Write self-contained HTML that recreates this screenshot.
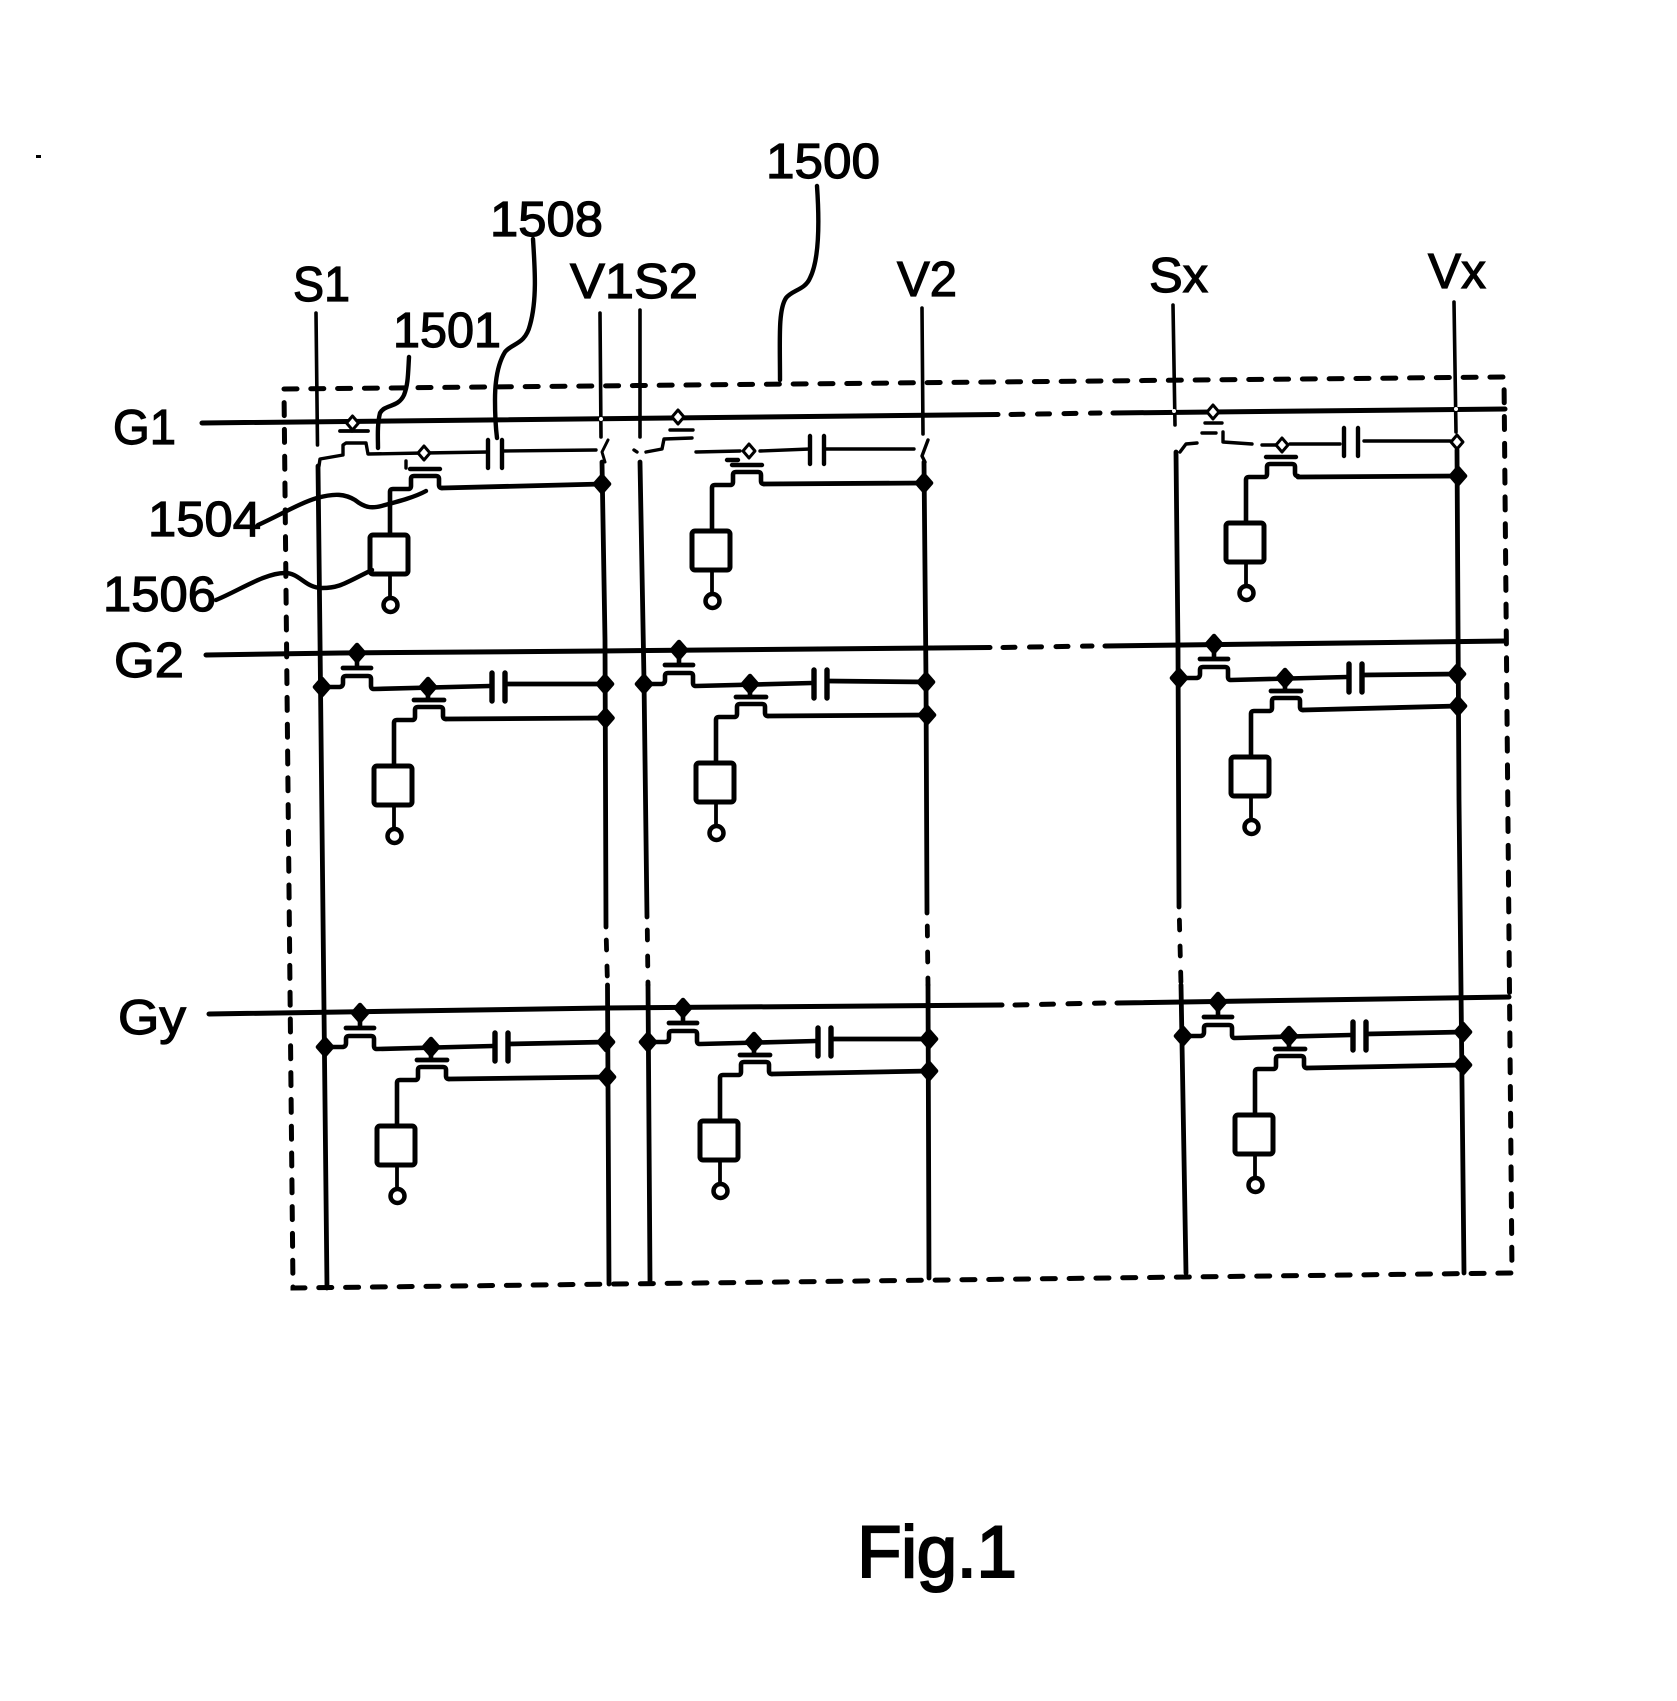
<!DOCTYPE html>
<html><head><meta charset="utf-8"><style>
html,body{margin:0;padding:0;background:#fff}
svg{display:block}
text{font-family:"Liberation Sans",sans-serif;font-size:49px;fill:#000;stroke:#000;stroke-width:1.200px}
</style></head><body>
<svg width="1677" height="1701" viewBox="0 0 1677 1701" xmlns="http://www.w3.org/2000/svg">
<defs>
<path id="d" d="M-7,0 L0,-8 L7,0 L0,8 Z" fill="#000" stroke="#000" stroke-width="4.500" stroke-linejoin="round"/>
<path id="h" d="M-6,0 L0,-7 L6,0 L0,7 Z" fill="#fff" stroke="#000" stroke-width="3" stroke-linejoin="round"/>
<g id="low" fill="none" stroke="#000" stroke-width="4.600" stroke-linejoin="round" stroke-linecap="round">
  <path d="M72,78 V36 Q72,33 75,33 H90 Q93,33 93,30 V23 Q93,20 96,20 H118 Q121,20 121,23 V29 Q121,32 124,32"/>
  <rect x="52" y="79" width="38" height="39" rx="3" stroke-width="5"/>
  <path d="M72,118 V141" stroke-width="3.800"/>
  <circle cx="72.500" cy="149" r="7" stroke-width="4.500"/>
</g>
<g id="c" fill="none" stroke="#000" stroke-width="4.600" stroke-linejoin="round" stroke-linecap="round">
  <path d="M0,0 H17 Q21,0 21,-4 V-8 Q21,-11 24,-11 H46 Q49,-11 49,-8 V-1 Q49,2 52,2 L168,-1"/>
  <path d="M21,-19 H49 M92,13 H122" stroke-width="4.800"/>
  <path d="M35,-28 V-20 M106,6 V12" stroke-width="4.600"/>
  <path d="M170,-14 V14 M183,-14 V14" stroke-width="5.400"/>
  <use href="#d" x="0" y="0"/><use href="#d" x="35" y="-34"/><use href="#d" x="106" y="0"/>
  <use href="#low"/>
</g>
<g id="t" fill="none" stroke="#000" stroke-width="3.400" stroke-linejoin="round" stroke-linecap="round">
  <path d="M92,13 H122" stroke-width="4.400"/>
  <path d="M170,-16 V12 M184,-16 V12" stroke-width="4.400"/>
  <use href="#low"/>
</g>
</defs>
<rect width="1677" height="1701" fill="#fff"/>
<rect x="36" y="155" width="5" height="3" fill="#000"/>

<!-- outer dashed frame -->
<path d="M284,389 L1504,377 L1512,1273 L293,1288 Z" fill="none" stroke="#000" stroke-width="5" stroke-dasharray="13 13.800" stroke-linecap="round"/>

<!-- gate lines -->
<g fill="none" stroke="#000" stroke-width="5" stroke-linecap="round">
  <path d="M202,423 L998,414.500"/>
  <path d="M1113,413 L1505,409"/>
  <path d="M1011,414.500 L1100,413" stroke-dasharray="12 14.500"/>
  <path d="M206,655 L340,653 L600,651 L990,647.500"/>
  <path d="M1105,646 L1505,641"/>
  <path d="M1003,647.500 L1092,646" stroke-dasharray="12 14.500"/>
  <path d="M209,1014 L605,1008 L1002,1005"/>
  <path d="M1117,1003 L1509,997"/>
  <path d="M1015,1005 L1104,1003" stroke-dasharray="12 14.500"/>
</g>

<!-- source and supply lines -->
<g fill="none" stroke="#000" stroke-linecap="round">
  <g stroke-width="3.600">
    <path d="M316,313 L317.500,445"/>
    <path d="M600,313 L601,437"/>
    <path d="M640,310 L640,437"/>
    <path d="M922,308 L923,434"/>
    <path d="M1173,305 L1175,425"/>
    <path d="M1454,302 L1456,432"/>
  </g>
  <g stroke-width="4.800">
    <path d="M318,466 L320,640 L327,1288"/>
    <path d="M602,462 L605,640 L606,927"/>
    <path d="M607.500,985 L609,1284"/>
    <path d="M640,462 L644,680 L647,917"/>
    <path d="M648,985 L650,1281"/>
    <path d="M924,462 L926,680 L927,913"/>
    <path d="M928,985 L929,1278"/>
    <path d="M1176,452 L1178,650 L1179,907"/>
    <path d="M1181,985 L1186,1273"/>
    <path d="M1457,450 L1459,800 L1464,1273"/>
    <path d="M606.300,940 L607.500,985" stroke-dasharray="10 16"/>
    <path d="M647.300,930 L648,985" stroke-dasharray="10 16"/>
    <path d="M927.300,926 L928,985" stroke-dasharray="10 16"/>
    <path d="M1179.400,920 L1181,985" stroke-dasharray="10 16"/>
  </g>
</g>

<!-- row 2 -->
<use href="#c" x="322" y="687"/><use href="#c" x="644" y="684"/><use href="#c" x="1179" y="678"/>
<!-- row 3 -->
<use href="#c" x="325" y="1047"/><use href="#c" x="648" y="1042"/><use href="#c" x="1183" y="1036"/>

<!-- connections to supply lines, rows 2-3 -->
<g fill="none" stroke="#000" stroke-width="4.800" stroke-linecap="round">
  <path d="M505,684 L605,684 M446,719 L605,718"/>
  <path d="M827,681 L926,682 M768,716 L927,715"/>
  <path d="M1362,675 L1457,674 M1303,710 L1458,706"/>
  <path d="M508,1044 L606,1042 M449,1079 L607,1077"/>
  <path d="M831,1039 L929,1039 M772,1074 L929,1071"/>
  <path d="M1366,1034 L1463,1032 M1307,1068 L1463,1065"/>
</g>
<use href="#d" x="605" y="684"/><use href="#d" x="605.500" y="718"/>
<use href="#d" x="926" y="682"/><use href="#d" x="927" y="715"/>
<use href="#d" x="1457" y="674"/><use href="#d" x="1458" y="706"/>
<use href="#d" x="606" y="1042"/><use href="#d" x="607" y="1077"/>
<use href="#d" x="929" y="1039"/><use href="#d" x="929" y="1071"/>
<use href="#d" x="1463" y="1032"/><use href="#d" x="1463" y="1065"/>

<!-- row 1 -->
<use href="#t" x="318" y="456"/><use href="#t" x="640" y="452"/><use href="#t" x="1174" y="444"/>
<g fill="none" stroke="#000" stroke-width="3.400" stroke-linecap="round" stroke-linejoin="round">
  <!-- col 1 -->
  <path d="M319,466 L320,459 L343,455 L343,445 L346,443 L366,443 L368,454 L424,453 L488,452"/>
  <path d="M340,431 H368" stroke-width="3.800"/>
  <path d="M352,428 V431"/>
  <path d="M502,451 L596,450"/>
  <path d="M406,461 V468" />
  <!-- col 2 -->
  <path d="M634,450 L637,452 M646,452 L662,449 L664,439 L692,438"/>
  <path d="M670,430 H693" stroke-width="3.400"/>
  <path d="M696,452 L740,451 M760,451 L810,449 M826,449 L914,449"/>
  <path d="M727,460 H738" stroke-width="4.400"/>
  <!-- col 3 -->
  <path d="M1180,452 L1186,444 L1197,443"/>
  <path d="M1205,423 H1222 M1202,433 H1216"/>
  <path d="M1223,432 V442 L1252,444 M1262,445 L1276,445 M1290,444 L1340,444 M1364,441 L1450,441"/>
  <!-- supply bends -->
  <path d="M608,440 L602,452 L605,462" stroke-width="3"/>
  <path d="M928,440 L922,456 L925,462"/>
</g>
<use href="#h" x="352.500" y="423"/><use href="#h" x="678" y="417"/><use href="#h" x="1213" y="412"/>
<use href="#h" x="424" y="453"/><use href="#h" x="749" y="451"/><use href="#h" x="1282" y="445"/>
<use href="#h" x="1457" y="442"/>
<use href="#d" x="602" y="484"/><use href="#d" x="924" y="483"/><use href="#d" x="1458" y="476"/>
<g fill="none" stroke="#000" stroke-width="4.800" stroke-linecap="round">
  <path d="M442,488 L602,484 M764,484 L924,483 M1298,477 L1458,476"/>
</g>
<g fill="#fff">
  <circle cx="601" cy="419" r="2"/><circle cx="1174" cy="411" r="2"/><circle cx="1456" cy="409" r="2"/>
</g>

<!-- leader lines -->
<g fill="none" stroke="#000" stroke-width="4.400" stroke-linecap="round" stroke-linejoin="round">
  <path d="M817,186 C820,230 818,262 810,278 C805,290 792,290 786,298 C778,310 780,340 780,380"/>
  <path d="M533,239 C535,270 537,300 530,325 C525,345 512,343 505,352 C497,365 495,385 495,400 C495,420 496,430 497,438"/>
  <path d="M409,357 C408,375 408,385 404,395 C398,408 385,404 380,413 C377,425 378,438 378,448"/>
  <path d="M258,525 C280,515 300,503 317,498 C335,493 345,494 355,500 C365,508 372,509 385,505 C400,501 415,497 426,491"/>
  <path d="M216,600 C240,590 265,573 285,573 C300,573 305,588 322,588 C340,588 345,583 372,570"/>
</g>

<!-- labels -->
<text x="766" y="178" textLength="114" lengthAdjust="spacingAndGlyphs">1500</text>
<text x="490" y="236" textLength="113" lengthAdjust="spacingAndGlyphs">1508</text>
<text x="393" y="347" textLength="108" lengthAdjust="spacingAndGlyphs">1501</text>
<text x="293" y="301" textLength="57" lengthAdjust="spacingAndGlyphs">S1</text>
<text x="570" y="298" textLength="128" lengthAdjust="spacingAndGlyphs">V1S2</text>
<text x="897" y="296" textLength="60" lengthAdjust="spacingAndGlyphs">V2</text>
<text x="1149" y="292" textLength="59" lengthAdjust="spacingAndGlyphs">Sx</text>
<text x="1428" y="288" textLength="58" lengthAdjust="spacingAndGlyphs">Vx</text>
<text x="113" y="444" textLength="63" lengthAdjust="spacingAndGlyphs">G1</text>
<text x="114" y="677" textLength="70" lengthAdjust="spacingAndGlyphs">G2</text>
<text x="118" y="1034" textLength="68" lengthAdjust="spacingAndGlyphs">Gy</text>
<text x="148" y="536" textLength="113" lengthAdjust="spacingAndGlyphs">1504</text>
<text x="103" y="611" textLength="113" lengthAdjust="spacingAndGlyphs">1506</text>
<text x="857" y="1577" textLength="160" style="font-size:73px;stroke-width:2px">Fig.1</text>
</svg>
</body></html>
